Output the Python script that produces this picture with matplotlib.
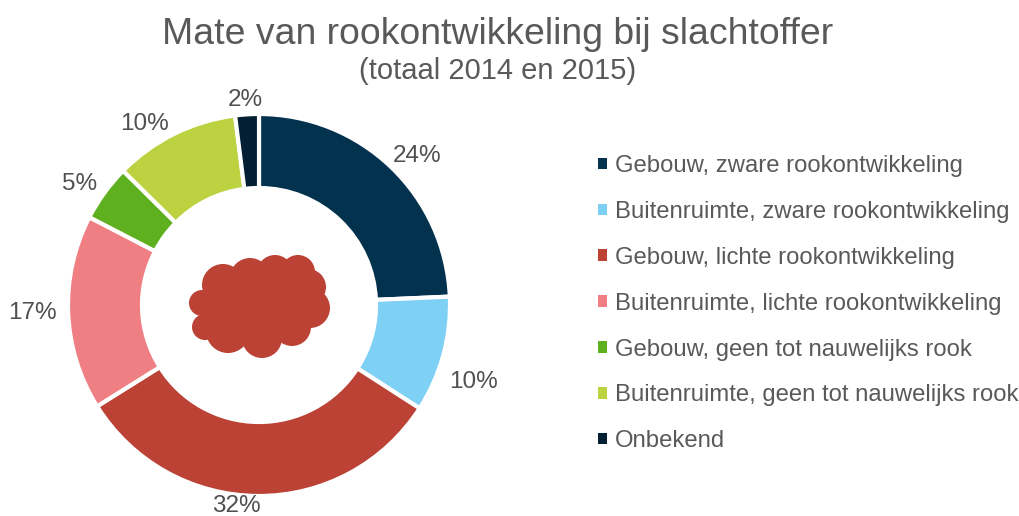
import matplotlib
matplotlib.use("Agg")
import matplotlib.pyplot as plt
from matplotlib.patches import Circle, Patch

plt.rcParams["font.family"] = ["Liberation Sans", "DejaVu Sans"]

W, H = 1020, 516
TEXT = "#595959"

categories = ["Gebouw, zware rookontwikkeling", "Buitenruimte, zware rookontwikkeling",
              "Gebouw, lichte rookontwikkeling", "Buitenruimte, lichte rookontwikkeling",
              "Gebouw, geen tot nauwelijks rook", "Buitenruimte, geen tot nauwelijks rook",
              "Onbekend"]
values = [24.3, 9.8, 32.0, 16.5, 4.8, 10.6, 2.0]
labels = ["24%", "10%", "32%", "17%", "5%", "10%", "2%"]
colors = ["#03324f", "#7fd0f5", "#bb4234", "#ef7f83", "#5eb01e", "#bcd240", "#021f33"]
label_pos = [(417, 156), (474, 382), (236, 505.5), (32, 313), (80, 184), (145, 124), (245, 100)]

fig = plt.figure(figsize=(W / 100, H / 100), dpi=100)

# donut, axes placed by pixels: centre (259, 305), radius 191
cx, cy, r = 259, 305, 191
ax = fig.add_axes([(cx - r) / W, 1 - (cy + r) / H, 2 * r / W, 2 * r / H])
wedges, _ = ax.pie(values, colors=colors, startangle=90, counterclock=False, radius=1,
                   wedgeprops=dict(width=74 / 191, edgecolor="white", linewidth=3))
ax.set_xlim(-1, 1); ax.set_ylim(-1, 1)
for w in wedges:
    w.set_clip_on(False)

# cloud icon in the hole, pixel coordinates
over = fig.add_axes([0, 0, 1, 1])
over.set_xlim(0, W); over.set_ylim(H, 0); over.axis("off")
cloud = [(223, 285, 21), (250, 278, 20), (275, 273, 18), (298, 272, 17), (308, 287, 18),
         (310, 308, 20), (292, 327, 19), (262, 338, 20), (228, 331, 22), (205, 327, 13),
         (202, 303, 13), (265, 303, 36), (232, 308, 30)]
for x, y, rad in cloud:
    over.add_patch(Circle((x, y), rad, color="#bb4234", lw=0))

for lab, (x, y) in zip(labels, label_pos):
    over.text(x, y, lab, ha="center", va="center", fontsize=17.5, color="#505050")

over.text(498, 34, "Mate van rookontwikkeling bij slachtoffer", ha="center", va="center",
          fontsize=26.9, color=TEXT)
over.text(498, 71, "(totaal 2014 en 2015)", ha="center", va="center", fontsize=21, color=TEXT)

handles = [Patch(color=c, lw=0) for c in colors]
fig.legend(handles, categories, loc="upper left", bbox_to_anchor=(598 / W, 1 - 155 / H),
           frameon=False, fontsize=17.2, labelcolor=TEXT, handlelength=0.36, handleheight=0.36,
           handletextpad=0.36, labelspacing=1.0, borderpad=0, borderaxespad=0)

fig.savefig("out.png", dpi=100)
